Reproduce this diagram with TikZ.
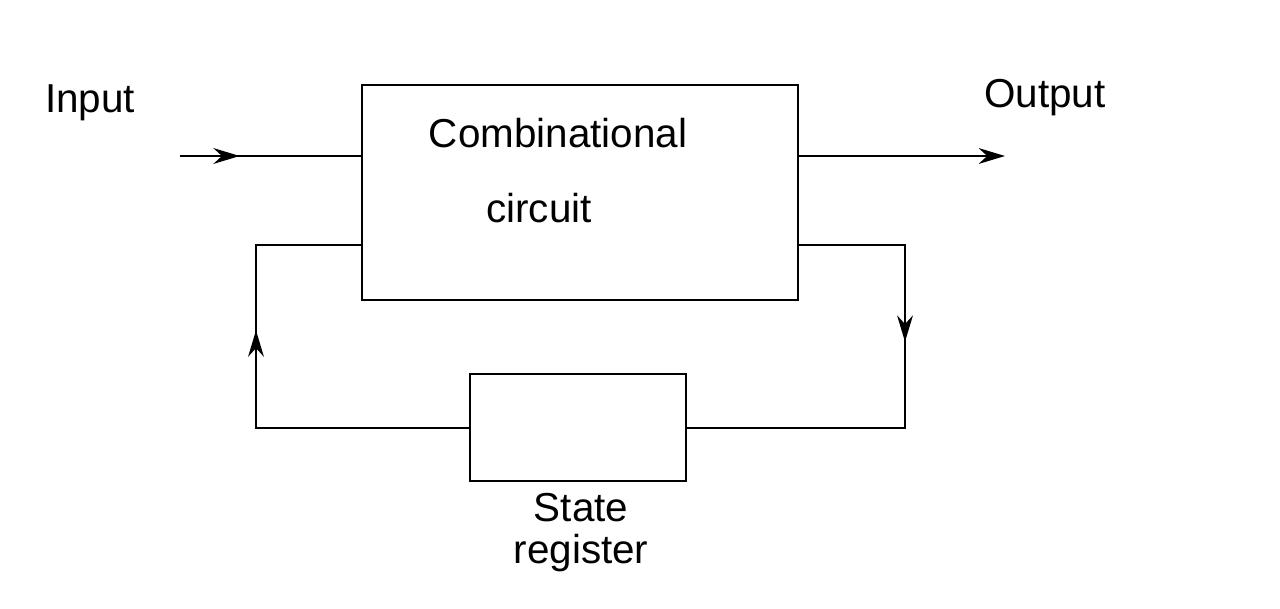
\documentclass[tikz,border=0pt]{standalone}
\usepackage{fontspec}
\setmainfont{Liberation Sans}
\usetikzlibrary{arrows.meta,positioning,decorations.markings}
\tikzset{
  blk/.style={draw, line width=1.2pt, inner sep=0pt},
  wire/.style={line width=1.2pt},
  tip/.style={-{Stealth[length=15pt,width=9pt]}},
  midarr/.style={postaction={decorate},decoration={markings,
    mark=at position #1 with {\arrow{Stealth[length=15pt,width=9pt]}}}},
  lbl/.style={font=\fontsize{23}{26}\selectfont}
}
\begin{document}
\begin{tikzpicture}[x=0.02cm, y=-0.02cm]
  \useasboundingbox (0,0) rectangle (1280,608);
  % --- blocks ---
  \node[blk, minimum width=8.72cm, minimum height=4.3cm] (comb) at (580,192.5) {};
  \node[blk, minimum width=4.32cm, minimum height=2.14cm] (reg) at (578,427.5) {};
  % --- labels ---
  \node[lbl] (tcomb) at (558,133) {Combinational};
  \node[lbl] (tcirc) at (539,208) {circuit};
  \node[lbl] (tstate) at (581,508) {State};
  \node[lbl] (treg) at (581,553) {register};
  \node[lbl] (tin) at (90,103) {Input};
  \node[lbl] (tout) at (1045,98) {Output};
  % --- free ends and corners ---
  \coordinate (inS) at (180,156);
  \coordinate (outE) at (1005,156);
  \coordinate (rA) at (905,245);
  \coordinate (rB) at (905,428);
  \coordinate (lA) at (256,428);
  \coordinate (lB) at (256,245);
  % --- connectors ---
  \draw[wire, midarr=0.33] (inS) -- (inS -| comb.west);
  \draw[wire, tip] (outE -| comb.east) -- (outE);
  \draw[wire, midarr=0.4] (rA -| comb.east) -- (rA) -- (rB) -- (rB -| reg.east);
  \draw[wire, midarr=0.62] (lA -| reg.west) -- (lA) -- (lB) -- (lB -| comb.west);
\end{tikzpicture}
\end{document}
